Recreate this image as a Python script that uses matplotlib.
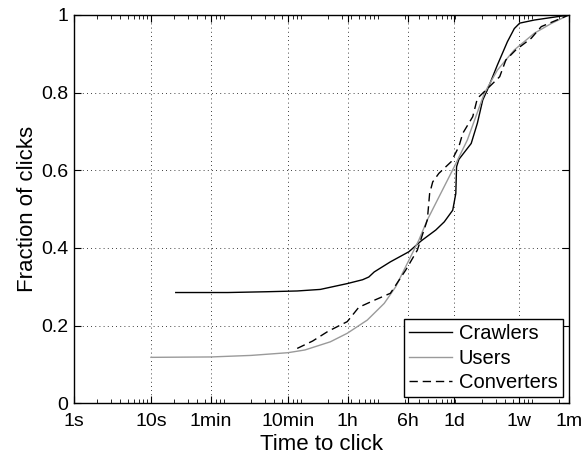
import matplotlib
matplotlib.use('Agg')
from matplotlib import pyplot as plt
from matplotlib.ticker import FixedLocator, LogLocator, NullFormatter
import numpy as np

plt.rcParams['font.family'] = ['Liberation Sans', 'DejaVu Sans']

# tick positions (seconds) and labels
tick_secs = [1, 10, 60, 600, 3600, 21600, 86400, 604800, 2678400]
tick_labels = ['1s', '10s', '1min', '10min', '1h', '6h', '1d', '1w', '1m']
y_ticks = [0, 0.2, 0.4, 0.6, 0.8, 1]
y_labels = ['0', '0.2', '0.4', '0.6', '0.8', '1']

# CDF curves (time in seconds, fraction of clicks)
crawlers_t = [21, 100, 316, 794, 1585, 3548, 5623, 6761, 7943, 12882, 22387,
              32359, 50119, 64565, 83176, 91201, 93325, 100000, 144544, 173780,
              204174, 234423, 316228, 426580, 524807, 616595, 954993, 2678400]
crawlers_f = [0.285, 0.285, 0.287, 0.289, 0.293, 0.308, 0.318, 0.325, 0.338,
              0.364, 0.390, 0.418, 0.446, 0.467, 0.497, 0.540, 0.609, 0.628,
              0.669, 0.721, 0.781, 0.807, 0.871, 0.931, 0.965, 0.979, 0.987, 1.0]

users_t = [10, 60, 200, 603, 1000, 2138, 3548, 6457, 10715, 15136, 21380,
           30200, 38905, 52481, 87096, 128825, 213796, 316228, 524807,
           954993, 1584893, 2678400]
users_f = [0.118, 0.119, 0.123, 0.130, 0.137, 0.158, 0.180, 0.214, 0.257,
           0.300, 0.360, 0.420, 0.472, 0.523, 0.609, 0.678, 0.798, 0.858,
           0.910, 0.953, 0.978, 1.0]

conv_t = [794, 1259, 1995, 3548, 5012, 7943, 12882, 20417, 28840, 38905,
          41687, 45709, 54954, 79433, 100000, 112202, 151356, 173780, 338844,
          407380, 549541, 870964, 1174898, 2678400]
conv_f = [0.141, 0.160, 0.185, 0.210, 0.247, 0.265, 0.283, 0.343, 0.394,
          0.472, 0.540, 0.570, 0.592, 0.622, 0.661, 0.695, 0.738, 0.785,
          0.841, 0.884, 0.910, 0.940, 0.970, 1.0]

fig = plt.figure(figsize=(5.87, 4.54), dpi=100)
ax = fig.add_axes([0.126, 0.112, 0.843, 0.855])

ax.plot(crawlers_t, crawlers_f, color='black', lw=1.0, label='Crawlers')
ax.plot(users_t, users_f, color='#9a9a9a', lw=1.0, label='Users')
ax.plot(conv_t, conv_f, color='black', lw=1.0, ls=(0, (6, 3.5)), label='Converters')

ax.set_xscale('log')
ax.set_xlim(1, 2678400)
ax.set_ylim(0, 1)
ax.xaxis.set_major_locator(FixedLocator(tick_secs))
ax.set_xticklabels(tick_labels)
ax.xaxis.set_minor_locator(LogLocator(base=10, subs=np.arange(2, 10)))
ax.xaxis.set_minor_formatter(NullFormatter())
ax.set_yticks(y_ticks)
ax.set_yticklabels(y_labels)

ax.tick_params(which='both', direction='in', top=True, right=True, labelsize=14)
ax.tick_params(which='major', length=5, width=0.8)
ax.tick_params(which='minor', length=3, width=0.6)
ax.tick_params(axis='x', pad=7)
ax.tick_params(axis='y', pad=4)
for s in ax.spines.values():
    s.set_linewidth(1.0)

ax.grid(True, which='major', ls=(0, (1, 4)), color='black', lw=0.6)

ax.set_xlabel('Time to click', fontsize=16, labelpad=3)
ax.set_ylabel('Fraction of clicks', fontsize=16, labelpad=2)

leg = ax.legend(loc='lower right', fontsize=14.5, fancybox=False, framealpha=1,
                edgecolor='black', borderpad=0.25, labelspacing=0.27,
                handlelength=2.15, handletextpad=0.33, borderaxespad=0.3)
leg.get_frame().set_linewidth(1.0)

fig.savefig('out.png', dpi=100)
